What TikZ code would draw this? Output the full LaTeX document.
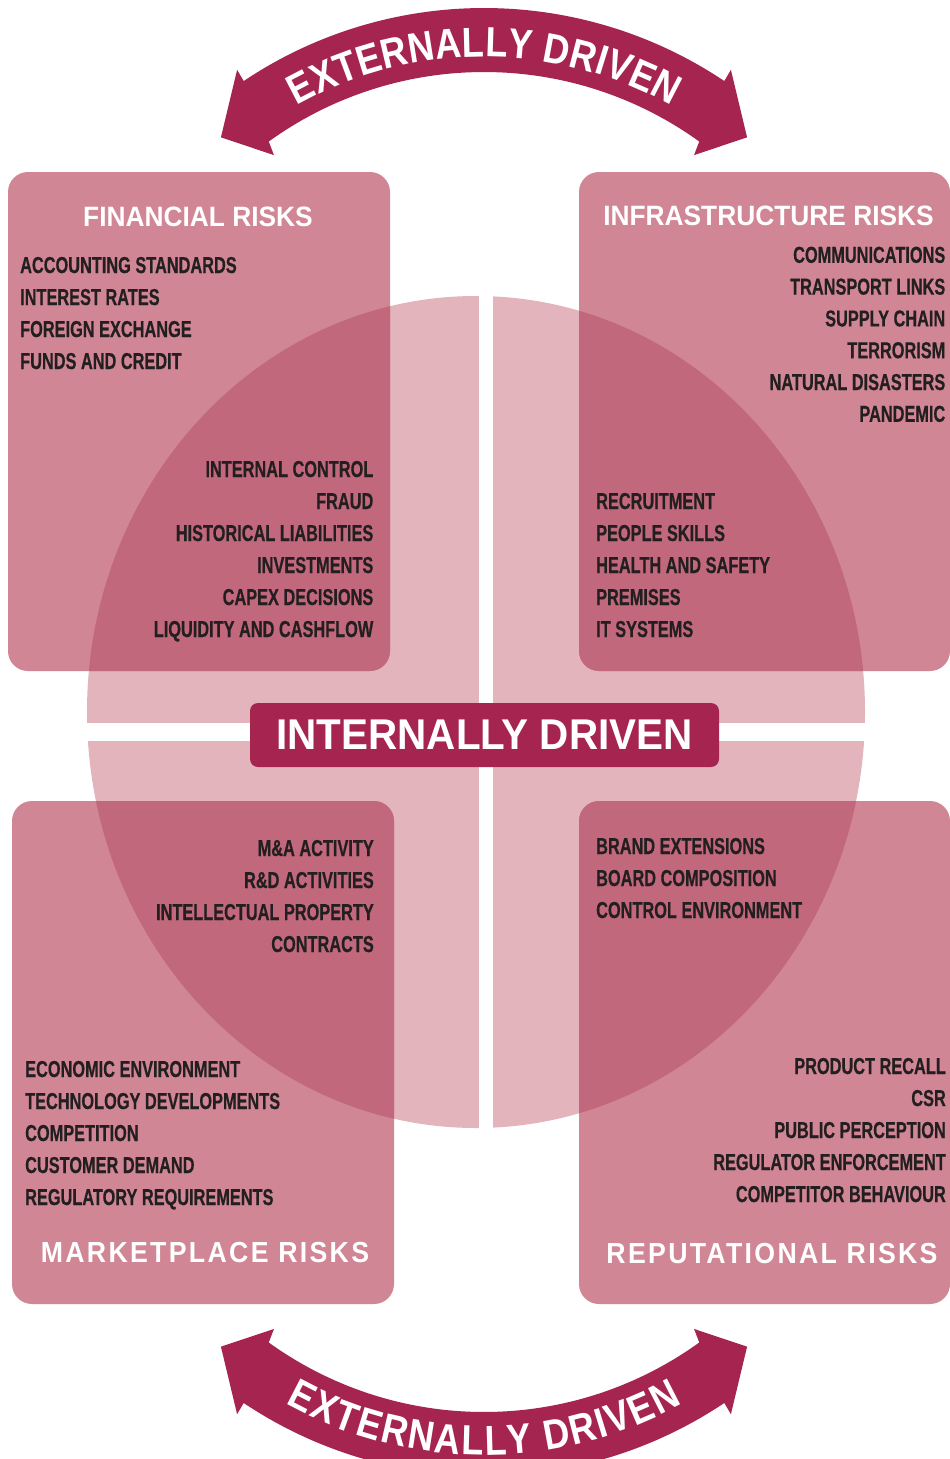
\documentclass[tikz,border=0pt]{standalone}
\usepackage{fontspec}
\usetikzlibrary{decorations.text}
\newfontfamily\itemfont[FakeStretch=0.71,FakeBold=0.5]{Liberation Sans}
\newfontfamily\headfont[FakeStretch=0.94]{Liberation Sans}
\newfontfamily\spacedfont[FakeStretch=0.92,LetterSpace=8]{Liberation Sans}
\newfontfamily\arcfont[FakeStretch=0.86]{Liberation Sans}
\definecolor{riskpink}{HTML}{D08694}
\definecolor{ringpink}{HTML}{E3B4BC}
\definecolor{overlappink}{HTML}{C1687C}
\definecolor{drivered}{HTML}{A62450}
\definecolor{ink}{HTML}{231F20}

\begin{document}
\begin{tikzpicture}[
    x=1pt, y=1pt,
    riskbox/.style={fill=riskpink, rounded corners=20pt, inner sep=0pt, outer sep=0pt, anchor=north west},
    item/.style={font=\itemfont\bfseries\fontsize{23}{28}\selectfont, text=ink, inner sep=0pt},
    title/.style={font=\headfont\bfseries\fontsize{28}{32}\selectfont, text=white, inner sep=0pt},
    spaced/.style={font=\spacedfont\bfseries\fontsize{29}{32}\selectfont, text=white, inner sep=0pt},
    extarrow/.style={fill=drivered},
    arctext/.style={decorate, decoration={text along path, text align=fit to path, text color=white,
        text={|\arcfont\bfseries\fontsize{42}{42}\selectfont|EXTERNALLY DRIVEN}}}
  ]
    \fill[white] (0,0) rectangle (950,-1459);
    \useasboundingbox (0,0) rectangle (950,-1459);

    % Internal ring and the cross cut through it
    \fill[ringpink] (476,-712) ellipse [x radius=389pt, y radius=416pt];
    \fill[white] (479,-285) rectangle (493,-1140);
    \fill[white] (80,-723) rectangle (875,-741);

    % Quadrant boxes
    \node[riskbox, minimum width=382pt, minimum height=499pt] (fin) at (8,-172) {};
    \node[riskbox, minimum width=371pt, minimum height=499pt] (infra) at (579,-172) {};
    \node[riskbox, minimum width=382pt, minimum height=503pt] (market) at (12,-801) {};
    \node[riskbox, minimum width=371pt, minimum height=503pt] (repu) at (579,-801) {};

    % Where the boxes meet the ring
    \begin{scope}
      \clip (476,-712) ellipse [x radius=389pt, y radius=416pt];
      \foreach \b in {fin,infra,market,repu}
        \fill[overlappink, rounded corners=20pt] (\b.north west) rectangle (\b.south east);
    \end{scope}

    \node[fill=drivered, rounded corners=8pt, minimum width=469pt, minimum height=64pt, inner sep=0pt,
      font=\headfont\bfseries\fontsize{43}{43}\selectfont, text=white] (internal) at (484.5,-735) {INTERNALLY DRIVEN};

    % Box titles
    \node[title, anchor=base] (fintitle) at (198,-226) {FINANCIAL RISKS};
    \node[title, anchor=base] (infratitle) at (768.5,-225) {INFRASTRUCTURE RISKS};
    \node[spaced, anchor=base] (markettitle) at (205,-1262) {MARKETPLACE RISKS};
    \node[spaced, anchor=base] (reputitle) at (772,-1263) {REPUTATIONAL RISKS};

    % Risk lists
    \foreach \t [count=\i] in {ACCOUNTING STANDARDS, INTEREST RATES, FOREIGN EXCHANGE, FUNDS AND CREDIT}
      \node[item, anchor=base west] (finout\i) at (20,{-241-32*\i}) {\t};
    \foreach \t [count=\i] in {INTERNAL CONTROL, FRAUD, HISTORICAL LIABILITIES, INVESTMENTS, CAPEX DECISIONS, LIQUIDITY AND CASHFLOW}
      \node[item, anchor=base east] (finin\i) at (373.5,{-445-32*\i}) {\t};
    \foreach \t [count=\i] in {COMMUNICATIONS, TRANSPORT LINKS, SUPPLY CHAIN, TERRORISM, NATURAL DISASTERS, PANDEMIC}
      \node[item, anchor=base east] (infraout\i) at (945.5,{-231-31.8*\i}) {\t};
    \foreach \t [count=\i] in {RECRUITMENT, PEOPLE SKILLS, HEALTH AND SAFETY, PREMISES, IT SYSTEMS}
      \node[item, anchor=base west] (infrain\i) at (596,{-477-32*\i}) {\t};
    \foreach \t [count=\i] in {M\&A ACTIVITY, R\&D ACTIVITIES, INTELLECTUAL PROPERTY, CONTRACTS}
      \node[item, anchor=base east] (marketin\i) at (374,{-824-32*\i}) {\t};
    \foreach \t [count=\i] in {ECONOMIC ENVIRONMENT, TECHNOLOGY DEVELOPMENTS, COMPETITION, CUSTOMER DEMAND, REGULATORY REQUIREMENTS}
      \node[item, anchor=base west] (marketout\i) at (25,{-1045-32*\i}) {\t};
    \foreach \t [count=\i] in {BRAND EXTENSIONS, BOARD COMPOSITION, CONTROL ENVIRONMENT}
      \node[item, anchor=base west] (repuin\i) at (596,{-822-32*\i}) {\t};
    \foreach \t [count=\i] in {PRODUCT RECALL, CSR, PUBLIC PERCEPTION, REGULATOR ENFORCEMENT, COMPETITOR BEHAVIOUR}
      \node[item, anchor=base east] (repuout\i) at (946,{-1042-32*\i}) {\t};

    % Externally driven arrows
    \begin{scope}[shift={(484,-440)}]
      \fill[extarrow] (123.8:432pt) arc[start angle=123.8, end angle=56.2, radius=432pt]
        -- (56.3:445pt) -- (49:401pt) -- (53.6:354pt) -- (54.2:368pt)
        arc[start angle=54.2, end angle=125.8, radius=368pt]
        -- (126.4:354pt) -- (131:401pt) -- (123.7:445pt) -- cycle;
      \path[arctext] (119.3:383pt) arc[start angle=119.3, end angle=60.7, radius=383pt];
    \end{scope}
    \begin{scope}[shift={(484,-1044)}, yscale=-1]
      \fill[extarrow] (123.8:432pt) arc[start angle=123.8, end angle=56.2, radius=432pt]
        -- (56.3:445pt) -- (49:401pt) -- (53.6:354pt) -- (54.2:368pt)
        arc[start angle=54.2, end angle=125.8, radius=368pt]
        -- (126.4:354pt) -- (131:401pt) -- (123.7:445pt) -- cycle;
    \end{scope}
    \begin{scope}[shift={(484,-1044)}]
      \path[arctext] (241.1:411pt) arc[start angle=241.1, end angle=298.9, radius=411pt];
    \end{scope}
  \end{tikzpicture}
\end{document}
